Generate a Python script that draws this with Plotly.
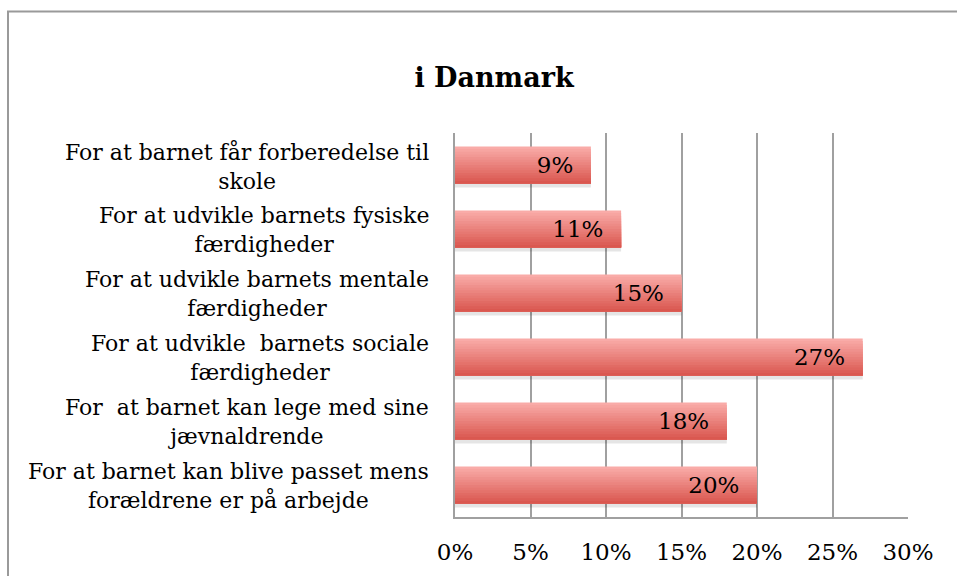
import plotly.graph_objects as go

categories = [
    "For at barnet får forberedelse til<br>skole",
    "For at udvikle barnets fysiske<br>færdigheder",
    "For at udvikle barnets mentale<br>færdigheder",
    "For at udvikle  barnets sociale<br>færdigheder",
    "For  at barnet kan lege med sine<br>jævnaldrende",
    "For at barnet kan blive passet mens<br>forældrene er på arbejde",
]
values = [0.09, 0.11, 0.15, 0.27, 0.18, 0.20]
title_text = "<b>i Danmark</b>"

FONT = "DejaVu Serif"
W, H = 957, 576
ML, MR, MT, MB = 455, 49, 133, 59
PW, PH = W - ML - MR, H - MT - MB

fig = go.Figure()

bar_w = 0.58
N = 14
top = (0xF9, 0xAB, 0xA8)
bot = (0xDA, 0x58, 0x50)

# soft shadow below each bar
fig.add_trace(go.Bar(
    y=categories, x=values, orientation="h",
    width=0.07, offset=bar_w / 2 - 0.01,
    marker=dict(color="rgba(0,0,0,0.10)", line=dict(width=0)),
    hoverinfo="skip", showlegend=False,
))

# vertical gradient: light top to dark bottom
for i in range(N):
    t = i / (N - 1)
    c = tuple(round(top[k] + (bot[k] - top[k]) * t) for k in range(3))
    off = -bar_w / 2 + i * bar_w / N
    fig.add_trace(go.Bar(
        y=categories, x=values, orientation="h",
        width=bar_w / 2 - off, offset=off,
        marker=dict(color="rgb(%d,%d,%d)" % c, line=dict(width=0)),
        hoverinfo="skip", showlegend=False,
    ))

# value labels
fig.add_trace(go.Bar(
    y=categories, x=values, orientation="h",
    width=bar_w, offset=-bar_w / 2,
    marker=dict(color="rgba(0,0,0,0)", line=dict(width=0)),
    text=[f"{round(v*100)}%\u00a0\u00a0" for v in values],
    textposition="inside", insidetextanchor="end",
    textfont=dict(family=FONT, size=23, color="black"),
    constraintext="none",
    hoverinfo="skip", showlegend=False,
))

for cat in categories:
    fig.add_annotation(
        x=0, xref="paper", y=cat, yref="y",
        text=cat, showarrow=False, xanchor="right", yanchor="middle",
        align="center", xshift=-24, yshift=-1,
        font=dict(family=FONT, size=22, color="black"),
    )

fig.update_layout(
    width=W, height=H,
    margin=dict(l=ML, r=MR, t=MT, b=MB, autoexpand=False),
    paper_bgcolor="white", plot_bgcolor="white",
    barmode="overlay",
    title=dict(text=title_text, x=494 / W, xref="container", xanchor="center",
               y=1 - 78 / H, yanchor="middle",
               font=dict(family=FONT, size=27, color="black")),
    showlegend=False,
    xaxis=dict(range=[0, 0.30], dtick=0.05, tickformat=".0%",
               showgrid=True, gridcolor="#A0A0A0", gridwidth=1.5,
               showline=True, linecolor="#A0A0A0", linewidth=1.5,
               zeroline=False, ticks="", ticklabelstandoff=14,
               tickfont=dict(family=FONT, size=23, color="black"),
               fixedrange=True),
    yaxis=dict(autorange="reversed", showticklabels=False, showgrid=False,
               showline=True, linecolor="#A0A0A0", linewidth=1.5,
               zeroline=False, ticks="", fixedrange=True),
    shapes=[dict(type="rect", xref="paper", yref="paper",
                 x0=(8 - ML) / PW, x1=(W + 20 - ML) / PW,
                 y0=(H - MB - (H + 20)) / PH, y1=(H - MB - 11.5) / PH,
                 line=dict(color="#9A9A9A", width=2), fillcolor="rgba(0,0,0,0)",
                 layer="below")],
)

fig.write_html("out.html", config={"displayModeBar": False},
               post_script="document.body.style.margin='0';document.body.style.overflow='hidden';")
